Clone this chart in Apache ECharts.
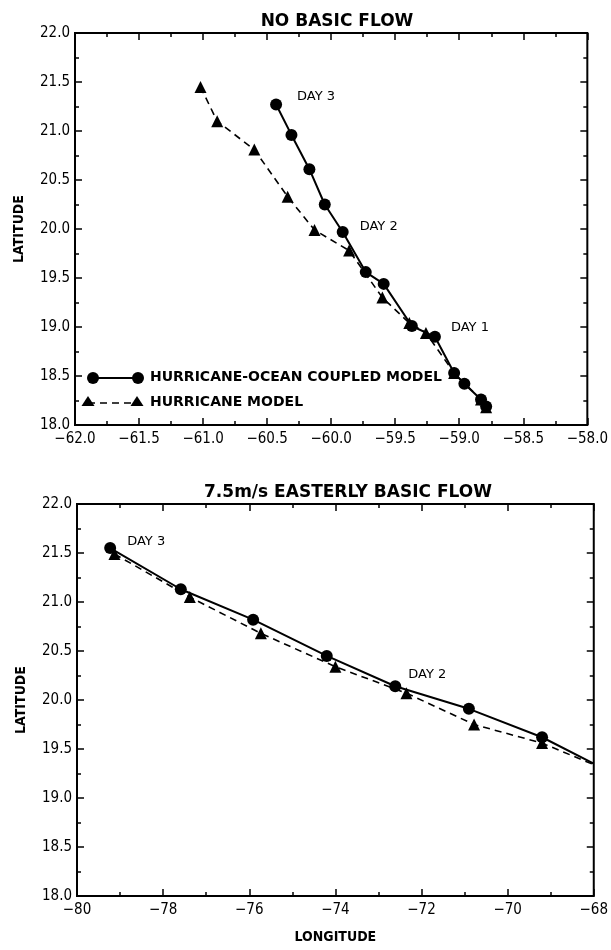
<!DOCTYPE html>
<html>
<head>
<meta charset="utf-8">
<script src="https://cdn.jsdelivr.net/npm/echarts@6/dist/echarts.min.js"></script>
<style>
html,body{margin:0;padding:0;background:#fff;}
#c{width:611px;height:950px;}
</style>
</head>
<body>
<div id="c"></div>
<script>
// ---- Data ----
// Panel 1: NO BASIC FLOW
var topCoupledLon = [-60.43,-60.31,-60.17,-60.05,-59.91,-59.73,-59.59,-59.37,-59.19,-59.04,-58.96,-58.83,-58.79];
var topCoupledLat = [21.27,20.96,20.61,20.25,19.97,19.56,19.44,19.01,18.90,18.53,18.42,18.26,18.19];
var topModelLon   = [-61.02,-60.89,-60.60,-60.34,-60.13,-59.86,-59.60,-59.39,-59.26,-59.04,-58.83,-58.79];
var topModelLat   = [21.45,21.10,20.81,20.33,19.99,19.78,19.30,19.04,18.94,18.53,18.26,18.18];
// Panel 2: 7.5m/s EASTERLY BASIC FLOW (last point = where the track leaves the frame)
var botCoupledLon = [-79.23,-77.59,-75.91,-74.20,-72.61,-70.90,-69.20,-68.00];
var botCoupledLat = [21.55,21.13,20.82,20.45,20.14,19.91,19.62,19.35];
var botModelLon   = [-79.13,-77.38,-75.73,-74.00,-72.35,-70.78,-69.20,-68.00];
var botModelLat   = [21.49,21.05,20.68,20.34,20.07,19.75,19.56,19.34];

var titles = ['NO BASIC FLOW', '7.5m/s EASTERLY BASIC FLOW'];
var legendNames = ['HURRICANE-OCEAN COUPLED MODEL', 'HURRICANE MODEL'];
var yAxisName = 'LATITUDE';
var xAxisName = 'LONGITUDE';
// Day annotations on the coupled-model track: [point index, text]
var topDays = [[0,'DAY 3'],[4,'DAY 2'],[8,'DAY 1']];
var botDays = [[0,'DAY 3'],[4,'DAY 2']];

var tickFont = "'Liberation Sans Narrow','DejaVu Sans Condensed',sans-serif";
var textFont = "'DejaVu Sans',sans-serif";

function zip(a,b){ return a.map(function(v,i){ return [v,b[i]]; }); }
function fmt1(v){ return (v<0?'\u2212':'') + Math.abs(v).toFixed(1); }
function fmt0(v){ return (v<0?'\u2212':'') + Math.abs(v).toFixed(0); }

function dataWithLabels(lon, lat, days, offsets, hideLast){
  var d = zip(lon, lat).map(function(p){ return {value:p}; });
  days.forEach(function(dd, k){
    d[dd[0]].label = {show:true, formatter: dd[1], position:'right', offset: offsets[k],
      color:'#000', fontFamily:textFont, fontSize:13, fontWeight:500};
  });
  if (hideLast) { d[d.length-1].symbol = 'none'; }
  return d;
}

function xAx(grid, min, max, interval, fmt, showLabels, pos, name){
  return {
    type:'value', gridIndex:grid, min:min, max:max, interval:interval, position:pos,
    axisLine:{show:false},
    axisTick:{show:true, inside:true, length:7, lineStyle:{color:'#000', width:1.5}},
    minorTick:{show:true, splitNumber:2, length:4, lineStyle:{color:'#000', width:1.5}},
    splitLine:{show:false},
    axisLabel:{show:showLabels, formatter:fmt, color:'#000', fontFamily:tickFont, fontSize:15, margin:7},
    name: name || '', nameLocation:'middle', nameGap:34,
    nameTextStyle:{color:'#000', fontFamily:tickFont, fontSize:14, fontWeight:'bold'}
  };
}
function yAx(grid, showLabels, pos, name){
  return {
    type:'value', gridIndex:grid, min:18, max:22, interval:0.5, position:pos,
    axisLine:{show:false},
    axisTick:{show:true, inside:true, length:7, lineStyle:{color:'#000', width:1.5}},
    minorTick:{show:true, splitNumber:2, length:4, lineStyle:{color:'#000', width:1.5}},
    splitLine:{show:false},
    axisLabel:{show:showLabels, formatter:fmt1, color:'#000', fontFamily:tickFont, fontSize:15, margin:5},
    name: name || '', nameLocation:'middle', nameGap:49,
    nameTextStyle:{color:'#000', fontFamily:tickFont, fontSize:14, fontWeight:'bold'}
  };
}

var solidStyle = {color:'#000', width:2};
var dashStyle = {color:'#000', width:1.6, type:[7,5]};

var option = {
  backgroundColor:'#fff',
  animation:false,
  title:[
    {text:titles[0], left:332, top:8, textAlign:'center',
     textStyle:{color:'#000', fontFamily:textFont, fontSize:17, fontWeight:'bold'}},
    {text:titles[1], left:343, top:479, textAlign:'center',
     textStyle:{color:'#000', fontFamily:textFont, fontSize:17, fontWeight:'bold'}}
  ],
  grid:[
    {left:75, right:17, top:33, height:392, show:true, borderColor:'#000', borderWidth:2, backgroundColor:'transparent'},
    {left:77, right:13, top:504, height:392, show:true, borderColor:'#000', borderWidth:2, backgroundColor:'transparent'}
  ],
  xAxis:[
    xAx(0, -62, -58, 0.5, fmt1, true, 'bottom'),
    xAx(0, -62, -58, 0.5, fmt1, false, 'top'),
    xAx(1, -80, -68, 2, fmt0, true, 'bottom', xAxisName),
    xAx(1, -80, -68, 2, fmt0, false, 'top')
  ],
  yAxis:[
    yAx(0, true, 'left', yAxisName),
    yAx(0, false, 'right'),
    yAx(1, true, 'left', yAxisName),
    yAx(1, false, 'right')
  ],
  series:[
    {type:'line', xAxisIndex:0, yAxisIndex:0, data: dataWithLabels(topModelLon, topModelLat, [], []),
     symbol:'triangle', symbolSize:12, itemStyle:{color:'#000'}, lineStyle:dashStyle, z:2},
    {type:'line', xAxisIndex:0, yAxisIndex:0, data: dataWithLabels(topCoupledLon, topCoupledLat, topDays, [[10,-8],[6,-5],[5,-9]]),
     symbol:'circle', symbolSize:12, itemStyle:{color:'#000'}, lineStyle:solidStyle, z:3},
    {type:'line', xAxisIndex:2, yAxisIndex:2, data: dataWithLabels(botModelLon, botModelLat, [], [], true),
     symbol:'triangle', symbolSize:12, itemStyle:{color:'#000'}, lineStyle:dashStyle, z:2},
    {type:'line', xAxisIndex:2, yAxisIndex:2, data: dataWithLabels(botCoupledLon, botCoupledLat, botDays, [[6,-6],[2,-12]], true),
     symbol:'circle', symbolSize:12, itemStyle:{color:'#000'}, lineStyle:solidStyle, z:3}
  ],
  graphic:[
    {type:'line', shape:{x1:93, y1:378, x2:138, y2:378}, style:{stroke:'#000', lineWidth:2}},
    {type:'circle', shape:{cx:93, cy:378, r:6}, style:{fill:'#000'}},
    {type:'circle', shape:{cx:138, cy:378, r:6}, style:{fill:'#000'}},
    {type:'text', left:150, top:370, style:{text:legendNames[0], fill:'#000', font:'bold 14px ' + textFont}},
    {type:'line', shape:{x1:88, y1:403, x2:137, y2:403}, style:{stroke:'#000', lineWidth:1.6, lineDash:[7,5]}},
    {type:'polygon', shape:{points:[[88,396],[94.5,406],[81.5,406]]}, style:{fill:'#000'}},
    {type:'polygon', shape:{points:[[137,396],[143.5,406],[130.5,406]]}, style:{fill:'#000'}},
    {type:'text', left:150, top:395, style:{text:legendNames[1], fill:'#000', font:'bold 14px ' + textFont}}
  ]
};

var chart = echarts.init(document.getElementById('c'), null, {renderer:'canvas'});
chart.setOption(option);
</script>
</body>
</html>
